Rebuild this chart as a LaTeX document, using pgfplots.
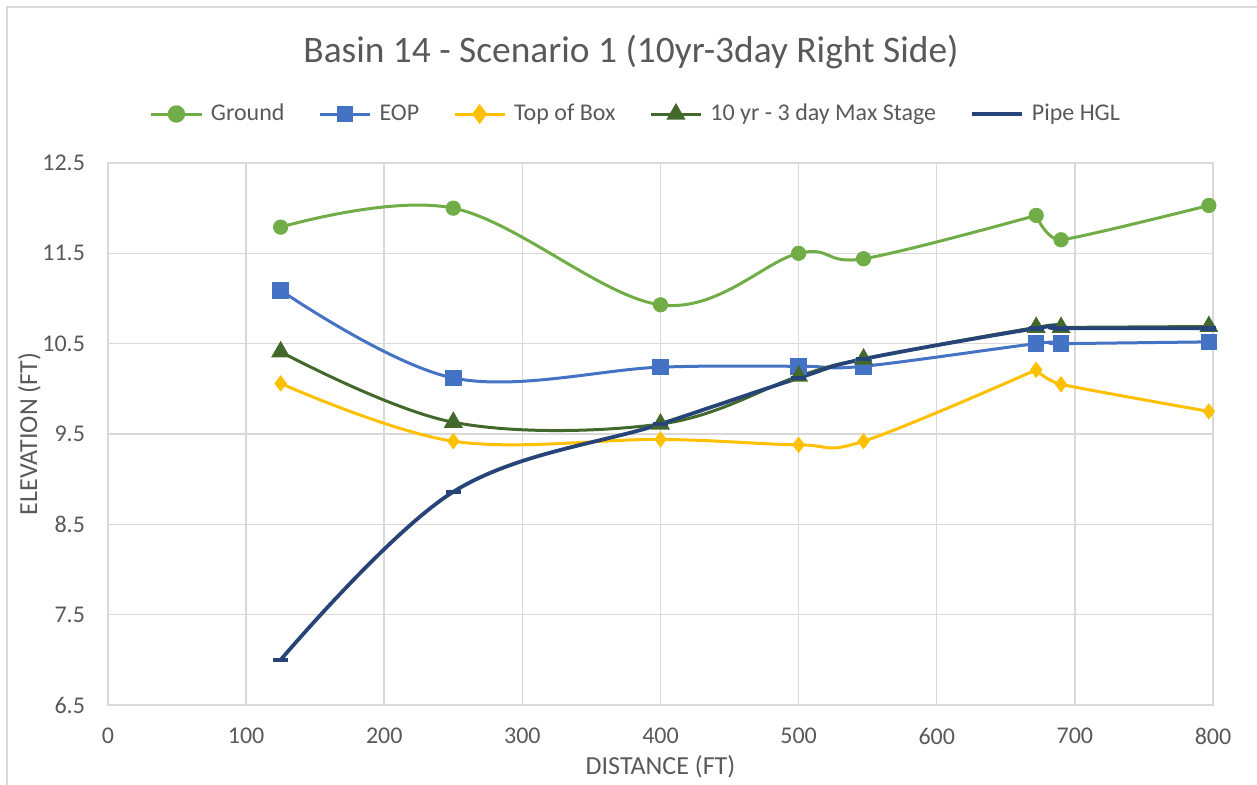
\documentclass[border=0pt]{standalone}
\usepackage{pgfplots}
\pgfplotsset{compat=1.18}
\usepackage{fontspec}
\setmainfont{Carlito}
\definecolor{cGround}{HTML}{70AD47}
\definecolor{cEOP}{HTML}{4472C4}
\definecolor{cTop}{HTML}{FFC000}
\definecolor{cStage}{HTML}{43682B}
\definecolor{cPipe}{HTML}{264478}
\definecolor{cGrid}{HTML}{D9D9D9}
\definecolor{cText}{HTML}{595959}
\begin{document}
\begin{tikzpicture}
\path[use as bounding box] (-54pt,-40pt) rectangle (574.5pt,352.5pt);
\draw[cGrid, line width=0.75pt] (-50.5pt,-40pt) -- (-50.5pt,349pt) -- (574.5pt,349pt);
\begin{axis}[
  at={(0,0)}, anchor=south west,
  scale only axis, width=552.5pt, height=271pt,
  xmin=0, xmax=800, ymin=6.5, ymax=12.5,
  xtick={0,100,...,800},
  ytick={6.5,7.5,...,12.5},
  grid=major,
  grid style={cGrid, line width=0.75pt},
  axis line style={cGrid, line width=0.75pt},
  major tick length=0pt,
  /pgf/number format/assume math mode=true,
  ticklabel style={font=\fontsize{12}{14}\selectfont, text=cText},
  yticklabel style={/pgf/number format/fixed, /pgf/number format/fixed zerofill, /pgf/number format/precision=1, xshift=-8pt},
  xticklabel style={yshift=-8pt},
  xlabel={DISTANCE (FT)},
  ylabel={ELEVATION (FT)},
  label style={font=\fontsize{13}{15}\selectfont, text=cText},
  xlabel style={yshift=1.5pt},
  ylabel style={yshift=-6pt},
  title={Basin 14 - Scenario 1 (10yr-3day Right Side)},
  title style={font=\fontsize{18.7}{22}\selectfont, text=cText, at={(0.4733,1.1827)}, anchor=center, yshift=0pt},
  legend columns=5,
  legend style={at={(0.4787,1.0904)}, anchor=center, draw=none, fill=none,
    font=\fontsize{12}{14}\selectfont, text=cText,
    /tikz/every odd column/.append style={column sep=2pt},
    /tikz/every even column/.append style={column sep=15pt}},
  legend image code/.code={
    \draw[#1, mark repeat=2, mark phase=2] plot coordinates {(0pt,0pt) (12.5pt,0pt) (25pt,0pt)};
  },
  every axis plot/.append style={smooth, tension=0.6},
]
% Ground
\addplot[cGround, line width=1.5pt, forget plot] coordinates {
 (125,11.79) (250,12.00) (400,10.93) (500,11.50) (547,11.44) (672,11.92)};
\addplot[cGround, line width=1.5pt, forget plot, tension=0.3] coordinates {
 (672,11.92) (690,11.65) (797,12.03)};
\addplot[cGround, only marks, mark=*, mark size=3.6pt, mark options={fill=cGround, draw=cGround}, forget plot] coordinates {
 (125,11.79) (250,12.00) (400,10.93) (500,11.50) (547,11.44) (672,11.92) (690,11.65) (797,12.03)};
\addlegendimage{cGround, line width=1.5pt, mark=*, mark size=3.6pt, mark options={fill=cGround, draw=cGround}}
\addlegendentry{Ground}
% EOP
\addplot[cEOP, line width=1.5pt, mark=square*, mark size=3.4pt, mark options={fill=cEOP, draw=cEOP}, forget plot] coordinates {
 (125,11.09) (250,10.12) (400,10.24) (500,10.25) (547,10.25) (672,10.50) (690,10.50) (797,10.52)};
\addlegendimage{cEOP, line width=1.5pt, mark=square*, mark size=3.4pt, mark options={fill=cEOP, draw=cEOP}}
\addlegendentry{EOP}
% Top of Box
\addplot[cTop, line width=1.5pt, forget plot] coordinates {
 (125,10.06) (250,9.42) (400,9.44) (500,9.38) (547,9.42) (672,10.21)};
\addplot[cTop, line width=1.5pt, forget plot, tension=0.3] coordinates {
 (672,10.21) (690,10.05) (797,9.75)};
\addplot[cTop, only marks, mark=diamond*, mark size=3.8pt, mark options={fill=cTop, draw=cTop}, forget plot] coordinates {
 (125,10.06) (250,9.42) (400,9.44) (500,9.38) (547,9.42) (672,10.21) (690,10.05) (797,9.75)};
\addlegendimage{cTop, line width=1.5pt, mark=diamond*, mark size=3.8pt, mark options={fill=cTop, draw=cTop}}
\addlegendentry{Top of Box}
% Max stage
\addplot[cStage, line width=1.5pt, mark=triangle*, mark size=4pt, mark options={fill=cStage, draw=cStage}, forget plot] coordinates {
 (125,10.41) (250,9.63) (400,9.61) (500,10.14) (547,10.33) (672,10.68) (690,10.68) (797,10.69)};
\addlegendimage{cStage, line width=1.5pt, mark=triangle*, mark size=4pt, mark options={fill=cStage, draw=cStage}}
\addlegendentry{10 yr - 3 day Max Stage}
% Pipe HGL
\addplot[cPipe, line width=1.9pt, mark=-, mark size=3.8pt, mark options={draw=cPipe, line width=2.2pt}, forget plot] coordinates {
 (125,7.00) (250,8.86) (400,9.61) (500,10.12) (547,10.33) (672,10.67) (690,10.67) (797,10.67)};
\addlegendimage{cPipe, line width=1.9pt, mark=-, mark size=3.8pt, mark options={draw=cPipe, line width=2.2pt}}
\addlegendentry{Pipe HGL}
\end{axis}
\end{tikzpicture}
\end{document}
